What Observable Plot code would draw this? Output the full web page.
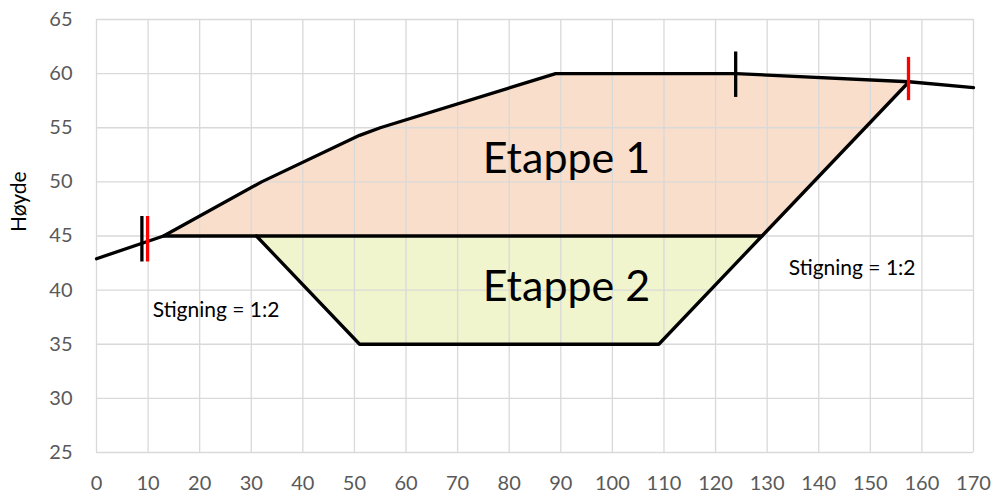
<!DOCTYPE html>
<html>
<head>
<meta charset="utf-8">
<script src="https://cdn.jsdelivr.net/npm/d3@7"></script>
<script src="https://cdn.jsdelivr.net/npm/@observablehq/plot@0.6"></script>
<style>
  html, body { margin: 0; padding: 0; background: #fff; }
  #chart { width: 994px; height: 496px; }
</style>
</head>
<body>
<div id="chart"></div>
<script>
// Terrain profile (x, height)
const terrainX = [0, 13, 32, 51, 55, 89, 124, 157.5, 170];
const terrainY = [42.9, 45, 50, 54.3, 55, 60, 60, 59.25, 58.7];

// Etappe 1 polygon
const etappe1X = [13, 32, 51, 55, 89, 124, 157.5, 129, 13];
const etappe1Y = [45, 50, 54.3, 55, 60, 60, 59.25, 45, 45];

// Etappe 2 polygon
const etappe2X = [31, 51, 109, 129, 31];
const etappe2Y = [45, 35, 35, 45, 45];

// Excavation outline (left slope, bottom, right slope up to terrain)
const outlineX = [31, 51, 109, 129, 157.5];
const outlineY = [45, 35, 35, 45, 59.25];

// Horizontal split line at 45
const splitX = [13, 129];
const splitY = [45, 45];

// Markers
const markerX = [8.8, 9.9, 123.9, 157.4];
const markerY1 = [42.6, 42.6, 57.8, 57.5];
const markerY2 = [46.8, 46.8, 62.0, 61.5];
const markerColor = ["black", "red", "black", "red"];

// Labels
const labelText = ["Etappe 1", "Etappe 2"];
const labelX = [91.1, 91.1];
const labelY = [52.1, 40.3];

const noteText = ["Stigning = 1:2", "Stigning = 1:2"];
const noteX = [10.9, 134.2];
const noteY = [38.1, 42.0];

const xTicks = d3.range(0, 171, 10);
const yTicks = d3.range(25, 66, 5);

const zip = (xs, ys) => xs.map((x, i) => ({x, y: ys[i]}));
const terrain = zip(terrainX, terrainY);
const e1 = zip(etappe1X, etappe1Y);
const e2 = zip(etappe2X, etappe2Y);
const outline = zip(outlineX, outlineY);
const split = zip(splitX, splitY);
const markers = markerX.map((x, i) => ({x, y1: markerY1[i], y2: markerY2[i], c: markerColor[i]}));
const labels = labelText.map((t, i) => ({t, x: labelX[i], y: labelY[i]}));
const notes = noteText.map((t, i) => ({t, x: noteX[i], y: noteY[i]}));

const chart = Plot.plot({
  width: 994,
  height: 496,
  marginLeft: 96,
  marginRight: 21,
  marginTop: 19,
  marginBottom: 44,
  style: {fontFamily: "Lato, sans-serif", fontSize: "20px", background: "#fff"},
  x: {domain: [0, 170], ticks: xTicks},
  y: {domain: [25, 65], ticks: yTicks},
  marks: [
    Plot.line(e1, {x: "x", y: "y", fill: "#F9DECB", stroke: "none"}),
    Plot.line(e2, {x: "x", y: "y", fill: "#F1F5CD", stroke: "none"}),
    Plot.gridX(xTicks, {stroke: "#d9d9d9", strokeOpacity: 1, strokeWidth: 1.3}),
    Plot.gridY(yTicks, {stroke: "#d9d9d9", strokeOpacity: 1, strokeWidth: 1.3}),
    Plot.axisX(xTicks, {tickSize: 0, tickPadding: 23, color: "#595959", label: null, fontSize: 20}),
    Plot.axisY(yTicks, {tickSize: 0, tickPadding: 24, color: "#595959", label: null, fontSize: 20}),
    Plot.text(["Høyde"], {frameAnchor: "left", rotate: -90, dx: -77, dy: -4, fill: "#000", fontSize: 21}),
    Plot.line(terrain, {x: "x", y: "y", stroke: "black", strokeWidth: 3.3}),
    Plot.line(split, {x: "x", y: "y", stroke: "black", strokeWidth: 3.3}),
    Plot.line(outline, {x: "x", y: "y", stroke: "black", strokeWidth: 3.3, strokeLinejoin: "miter"}),
    Plot.ruleX(markers, {x: "x", y1: "y1", y2: "y2", stroke: "c", strokeWidth: 3.3}),
    Plot.text(labels, {x: "x", y: "y", text: "t", fontSize: 43, fill: "black"}),
    Plot.text(notes, {x: "x", y: "y", text: "t", fontSize: 21, textAnchor: "start", fill: "black"})
  ]
});
document.getElementById("chart").appendChild(chart);
</script>
</body>
</html>
